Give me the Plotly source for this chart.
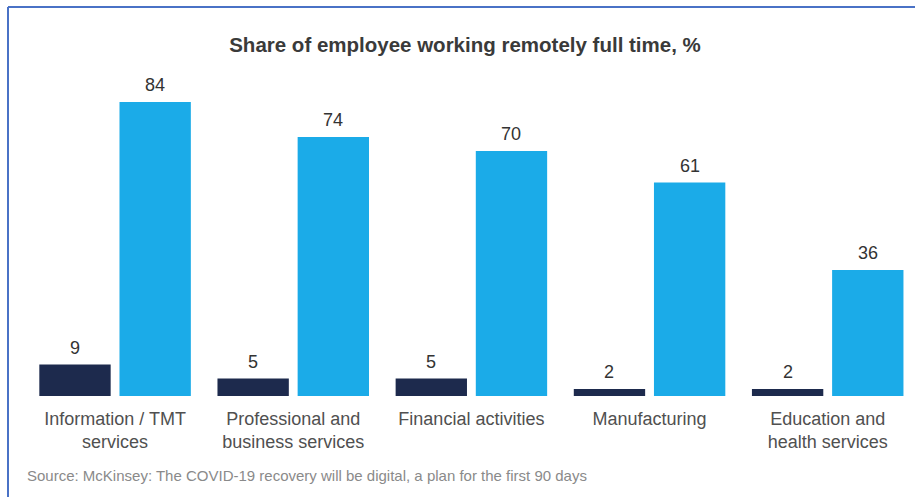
import plotly.graph_objects as go

# Data
categories = [
    "Information / TMT<br>services",
    "Professional and<br>business services",
    "Financial activities",
    "Manufacturing",
    "Education and<br>health services",
]
before_covid = [9, 5, 5, 2, 2]
during_covid = [84, 74, 70, 61, 36]

title_text = "Share of employee working remotely full time, %"
source_text = ("Source: McKinsey: The COVID-19 recovery will be digital, "
               "a plan for the first 90 days")

# Styling
DARK = "#1d2a4d"
LIGHT = "#1babe8"
FONT = "Liberation Sans, Arial, sans-serif"
W, H = 915, 498
M_L, M_R, M_T, M_B = 26, 0, 46, 102
BARGAP, GROUPGAP = 0.10, 0.11
X_RANGE = [-0.5, 4.49]

plot_w = W - M_L - M_R
plot_h = H - M_T - M_B
px_per_cat = plot_w / (X_RANGE[1] - X_RANGE[0])
bar_offset = px_per_cat * (1 - BARGAP) / 4  # centre of each bar from category centre

fig = go.Figure()
fig.add_trace(go.Bar(x=categories, y=before_covid, marker_color=DARK,
                     marker_line_width=0, showlegend=False, hoverinfo="skip"))
fig.add_trace(go.Bar(x=categories, y=during_covid, marker_color=LIGHT,
                     marker_line_width=0, showlegend=False, hoverinfo="skip"))

# value labels above bars
annotations = []
for series, shift in ((before_covid, -bar_offset), (during_covid, bar_offset)):
    for cat, val in zip(categories, series):
        annotations.append(dict(
            x=cat, y=val, xref="x", yref="y", text=str(val), showarrow=False,
            xshift=shift, yshift=5, yanchor="bottom",
            font=dict(family=FONT, size=18, color="#333333"),
        ))

# source line
annotations.append(dict(
    x=(25 - M_L) / plot_w, y=(plot_h - (475 - M_T)) / plot_h,
    xref="paper", yref="paper", xanchor="left", yanchor="middle",
    text=source_text, showarrow=False,
    font=dict(family=FONT, size=15, color="#8a8a8a"),
))


def px_x(p):
    return (p - M_L) / plot_w


def px_y(p):
    return (plot_h - (p - M_T)) / plot_h


# frame lines along the top and left edges
frame = [
    dict(type="line", xref="paper", yref="paper",
         x0=px_x(8), x1=px_x(916), y0=px_y(7), y1=px_y(7),
         line=dict(color="#4a72c6", width=2)),
    dict(type="line", xref="paper", yref="paper",
         x0=px_x(8), x1=px_x(8), y0=px_y(7), y1=px_y(497),
         line=dict(color="#4a72c6", width=2)),
]

fig.update_layout(
    width=W, height=H,
    margin=dict(l=M_L, r=M_R, t=M_T, b=M_B),
    paper_bgcolor="white", plot_bgcolor="white",
    barmode="group", bargap=BARGAP, bargroupgap=GROUPGAP,
    title=dict(text="<b>" + title_text + "</b>", x=465 / W, y=1 - 45 / H,
               xanchor="center", yanchor="middle",
               font=dict(family=FONT, size=20.5, color="#3a3a3a")),
    xaxis=dict(range=X_RANGE, showgrid=False, showline=False, zeroline=False,
               ticks="", ticklabelstandoff=10,
               tickfont=dict(family=FONT, size=18, color="#505050"),
               fixedrange=True),
    yaxis=dict(range=[0, 100], visible=False, fixedrange=True),
    annotations=annotations,
    shapes=frame,
)

fig.write_html("out.html")
